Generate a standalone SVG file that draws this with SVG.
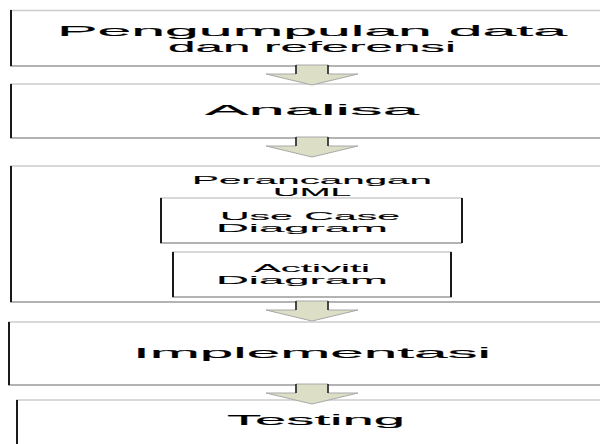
<svg xmlns="http://www.w3.org/2000/svg" width="600" height="444" viewBox="0 0 600 444">
  <style>
    .t { font-family: "Liberation Sans", Arial, sans-serif; fill: #000; stroke: #000; stroke-width: 0.15; text-anchor: middle; }
    .big { font-size: 15px; }
    .sm { font-size: 10.5px; stroke-width: 0.1; }
    .top { stroke: #cccccc; stroke-width: 1.5; }
    .bot { stroke: #9a9a9a; stroke-width: 1.5; }
    .side { stroke: #1a1a1a; stroke-width: 2; }
    .head { fill: #dcdfc6; stroke: #a8a8a8; stroke-width: 1; }
    .shaft { stroke: #1a1a1a; stroke-width: 1.5; }
  </style>
  <defs>
    <!-- down arrow, shaft top at y=0, tip at y=19 -->
    <g id="down">
      <polygon class="head" points="296,-1 328,-1 328,8 358,8 312,19 266,8 296,8"/>
      <line class="shaft" x1="296" y1="-1" x2="296" y2="8"/>
      <line class="shaft" x1="328" y1="-1" x2="328" y2="8"/>
    </g>
  </defs>
  <rect width="600" height="444" fill="#fff"/>

  <g id="n1">
    <line class="top" x1="10" y1="10.5" x2="600" y2="10.5"/>
    <line class="bot" x1="10" y1="66" x2="600" y2="66"/>
    <line class="side" x1="11" y1="10" x2="11" y2="66"/>
    <text class="t big" x="312" y="36" textLength="510" lengthAdjust="spacingAndGlyphs">Pengumpulan data</text>
    <text class="t big" x="312" y="52" textLength="288" lengthAdjust="spacingAndGlyphs">dan referensi</text>
  </g>

  <g id="n2">
    <line class="top" x1="10" y1="84" x2="600" y2="84"/>
    <line class="bot" x1="10" y1="138" x2="600" y2="138"/>
    <line class="side" x1="11" y1="84" x2="11" y2="138"/>
    <text class="t big" x="312" y="115" textLength="214" lengthAdjust="spacingAndGlyphs">Analisa</text>
  </g>

  <g id="n3">
    <line class="top" x1="10" y1="166" x2="600" y2="166"/>
    <line class="bot" x1="10" y1="302" x2="600" y2="302"/>
    <line class="side" x1="11" y1="166" x2="11" y2="302"/>
    <text class="t sm" x="312" y="184" textLength="240" lengthAdjust="spacingAndGlyphs">Perancangan</text>
    <text class="t sm" x="312" y="196" textLength="78" lengthAdjust="spacingAndGlyphs">UML</text>
  </g>

  <g id="n3a">
    <line class="top" x1="160" y1="198" x2="462" y2="198"/>
    <line class="bot" x1="160" y1="243" x2="462" y2="243"/>
    <line class="side" x1="161" y1="198" x2="161" y2="243"/>
    <line class="side" x1="462" y1="198" x2="462" y2="243"/>
    <text class="t sm" x="310" y="220" textLength="180" lengthAdjust="spacingAndGlyphs">Use Case</text>
    <text class="t sm" x="302" y="232" textLength="172" lengthAdjust="spacingAndGlyphs">Diagram</text>
  </g>

  <g id="n3b">
    <line class="top" x1="172" y1="252" x2="452" y2="252"/>
    <line class="bot" x1="172" y1="297" x2="452" y2="297"/>
    <line class="side" x1="173" y1="252" x2="173" y2="297"/>
    <line class="side" x1="451" y1="252" x2="451" y2="297"/>
    <text class="t sm" x="312" y="272" textLength="116" lengthAdjust="spacingAndGlyphs">Activiti</text>
    <text class="t sm" x="302" y="284" textLength="172" lengthAdjust="spacingAndGlyphs">Diagram</text>
  </g>

  <g id="n4">
    <line class="top" x1="8" y1="322" x2="600" y2="322"/>
    <line class="bot" x1="8" y1="385" x2="600" y2="385"/>
    <line class="side" x1="9" y1="322" x2="9" y2="385"/>
    <text class="t big" x="312" y="358" textLength="358" lengthAdjust="spacingAndGlyphs">Implementasi</text>
  </g>

  <g id="n5">
    <line class="top" x1="16" y1="400" x2="600" y2="400"/>
    <line class="side" x1="17" y1="400" x2="17" y2="444"/>
    <text class="t big" x="316" y="425" textLength="178" lengthAdjust="spacingAndGlyphs">Testing</text>
  </g>

  <g id="connectors">
    <use href="#down" transform="translate(0,66)"/>
    <use href="#down" transform="translate(0,138)"/>
    <use href="#down" transform="translate(0,302)"/>
    <use href="#down" transform="translate(0,385)"/>
  </g>
</svg>
